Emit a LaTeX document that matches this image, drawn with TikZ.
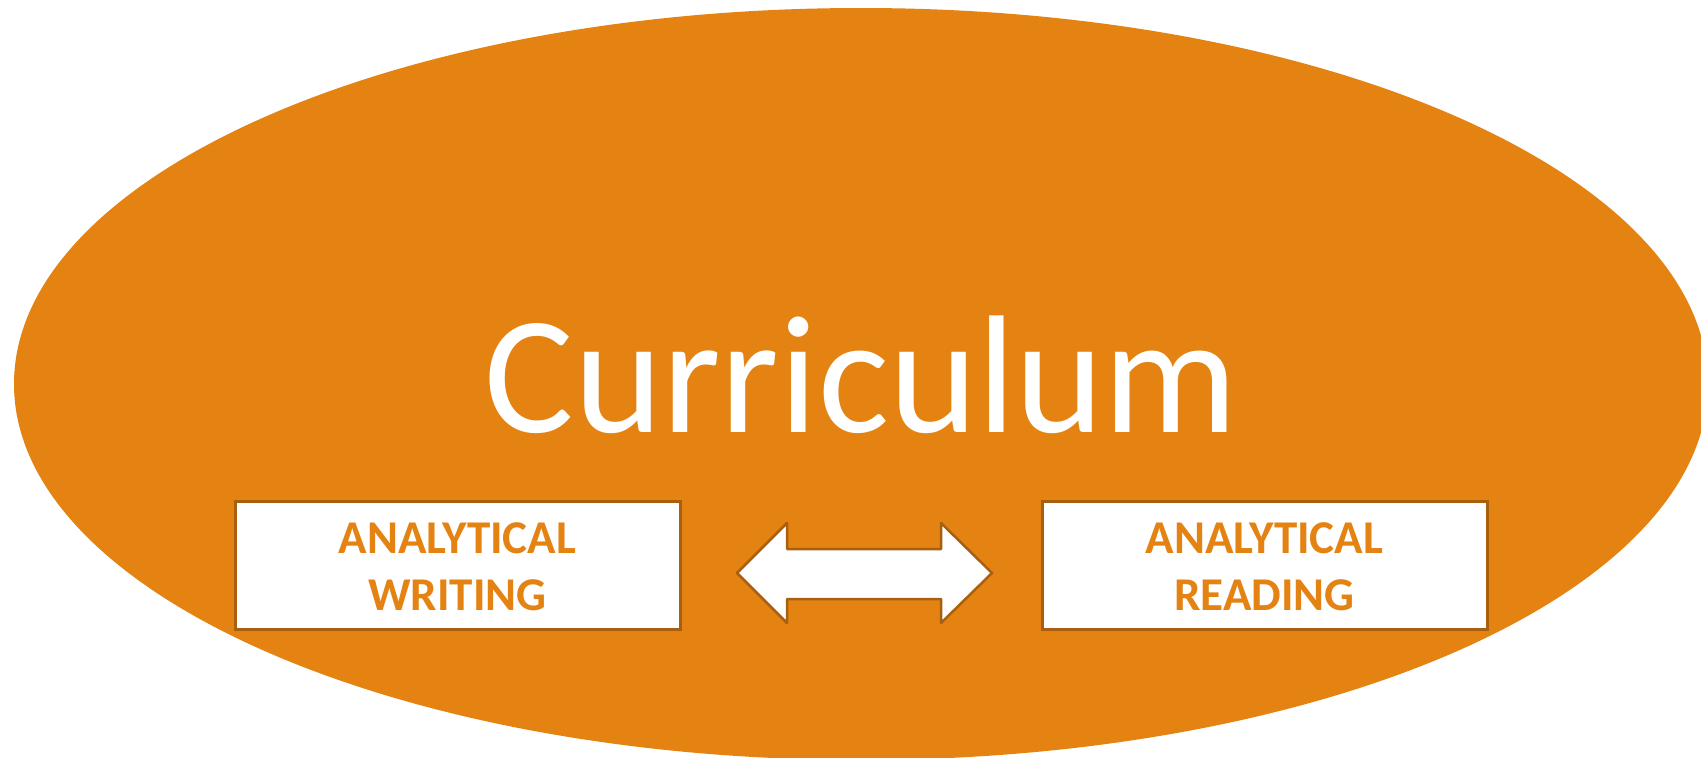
\documentclass[tikz,border=0pt]{standalone}
\usepackage{fontspec}
\setmainfont{Carlito}
\definecolor{orng}{RGB}{228,130,18}
\definecolor{brd}{RGB}{168,96,16}
\tikzset{
  boxnode/.style={draw=brd, fill=white, line width=3pt, rectangle, inner sep=0pt, minimum width=445pt, minimum height=128pt},
  lbl/.style={text=orng, font=\fontsize{47}{57}\selectfont\bfseries, inner sep=0pt, anchor=base},
  arrowshape/.style={draw=brd, fill=white, line width=2.5pt, line join=round}
}
\begin{document}
\begin{tikzpicture}[x=1pt,y=-1pt]
\useasboundingbox (0,0) rectangle (1701,758);
\begin{scope}
\clip (0,0) rectangle (1701,758);
\fill[orng] (861,384) ellipse [x radius=847, y radius=376];
\end{scope}
\node[text=white, font=\fontsize{168}{200}\selectfont, inner sep=0pt, anchor=base] (title) at (861.5,432) {Curriculum};
\node[boxnode] (left) at (457.5,565) {};
\node[boxnode] (right) at (1264.5,565) {};
\node[lbl] (l1) at (457.5,553) {ANALYTICAL};
\node[lbl] (l2) at (457.5,610) {WRITING};
\node[lbl] (r1) at (1264.5,553) {ANALYTICAL};
\node[lbl] (r2) at (1264.5,610) {READING};
\draw[arrowshape] (737,573) -- (787,523) -- (787,549) -- (941,549) -- (941,523) -- (992,573) -- (941,623) -- (941,599) -- (787,599) -- (787,623) -- cycle;
\end{tikzpicture}
\end{document}
